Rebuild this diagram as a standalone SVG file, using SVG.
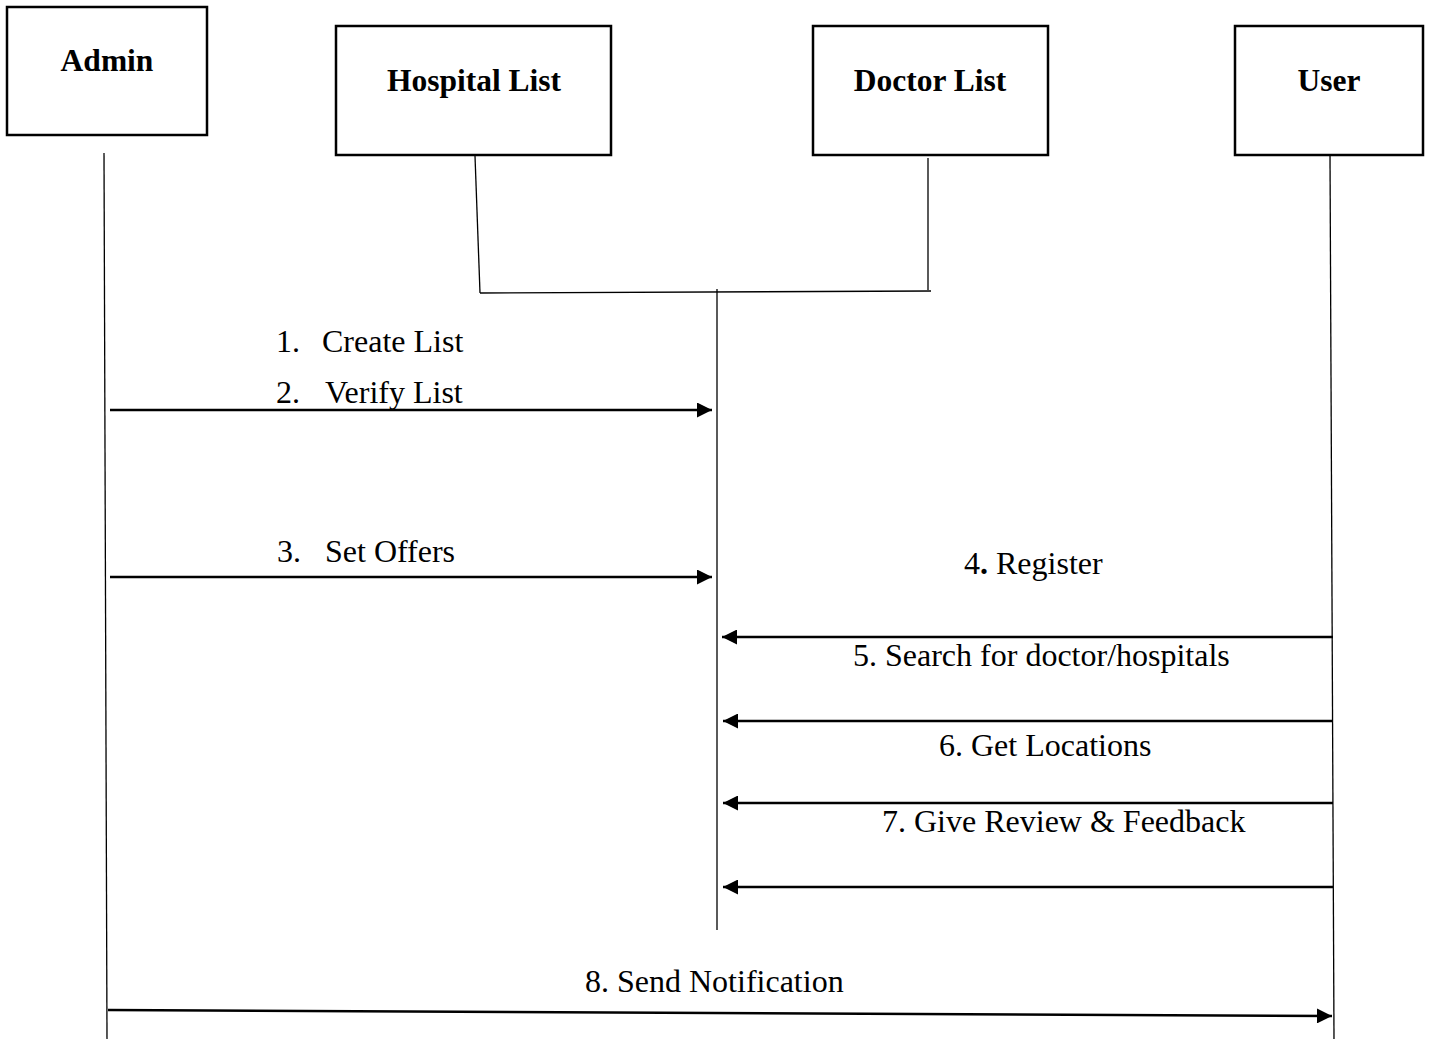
<svg xmlns="http://www.w3.org/2000/svg" width="1431" height="1039" viewBox="0 0 1431 1039">
<style>
.box{fill:#fff;stroke:#000;stroke-width:2.5}
.title{font-family:"Liberation Serif","Times New Roman",serif;font-weight:bold;font-size:31.5px;text-anchor:middle;fill:#000}
.lbl{font-family:"Liberation Serif","Times New Roman",serif;font-size:32px;fill:#000}
.life{stroke:#000;stroke-width:1.3;fill:none}
.msg{stroke:#000;stroke-width:2.5;fill:none}
</style>
<defs>
<marker id="ah" viewBox="0 0 10 10" refX="10" refY="5" markerWidth="16" markerHeight="15" markerUnits="userSpaceOnUse" orient="auto">
<path d="M0,0 L10,5 L0,10 Z" fill="#000"/>
</marker>
</defs>
<rect width="1431" height="1039" fill="#fff"/>
<g id="admin"><rect class="box" x="7" y="7" width="200" height="128"/><text class="title" x="107" y="71">Admin</text></g>
<g id="hospital-list"><rect class="box" x="336" y="26" width="275" height="129"/><text class="title" x="474" y="91">Hospital List</text></g>
<g id="doctor-list"><rect class="box" x="813" y="26" width="235" height="129"/><text class="title" x="930" y="91">Doctor List</text></g>
<g id="user"><rect class="box" x="1235" y="26" width="188" height="129"/><text class="title" x="1329" y="91">User</text></g>
<g id="connectors">
<line class="life" x1="104" y1="153" x2="107" y2="1039"/>
<line class="life" x1="475" y1="156" x2="480" y2="293"/>
<line class="life" x1="928" y1="158" x2="928" y2="290"/>
<line class="life" x1="480" y1="293" x2="931" y2="291"/>
<line class="life" x1="717" y1="289" x2="717" y2="930"/>
<line class="life" x1="1330" y1="155" x2="1334" y2="1039"/>
<line class="msg" x1="110" y1="410" x2="712" y2="410" marker-end="url(#ah)"/>
<line class="msg" x1="110" y1="577" x2="712" y2="577" marker-end="url(#ah)"/>
<line class="msg" x1="1333" y1="637" x2="722" y2="637" marker-end="url(#ah)"/>
<line class="msg" x1="1333" y1="721" x2="723" y2="721" marker-end="url(#ah)"/>
<line class="msg" x1="1333" y1="803" x2="723" y2="803" marker-end="url(#ah)"/>
<line class="msg" x1="1333" y1="887" x2="723" y2="887" marker-end="url(#ah)"/>
<line class="msg" x1="108" y1="1010" x2="1332" y2="1016" marker-end="url(#ah)"/>
</g>
<g id="labels">
<text class="lbl" x="276" y="352">1.</text><text class="lbl" x="322" y="352">Create List</text>
<text class="lbl" x="276" y="403">2.</text><text class="lbl" x="325" y="403">Verify List</text>
<text class="lbl" x="277" y="562">3.</text><text class="lbl" x="325" y="562">Set Offers</text>
<text class="lbl" x="964" y="574">4<tspan font-weight="bold">.</tspan> Register</text>
<text class="lbl" x="853" y="666">5. Search for doctor/hospitals</text>
<text class="lbl" x="939" y="756">6. Get Locations</text>
<text class="lbl" x="882" y="832">7. Give Review &amp; Feedback</text>
<text class="lbl" x="585" y="992">8. Send Notification</text>
</g>
</svg>
